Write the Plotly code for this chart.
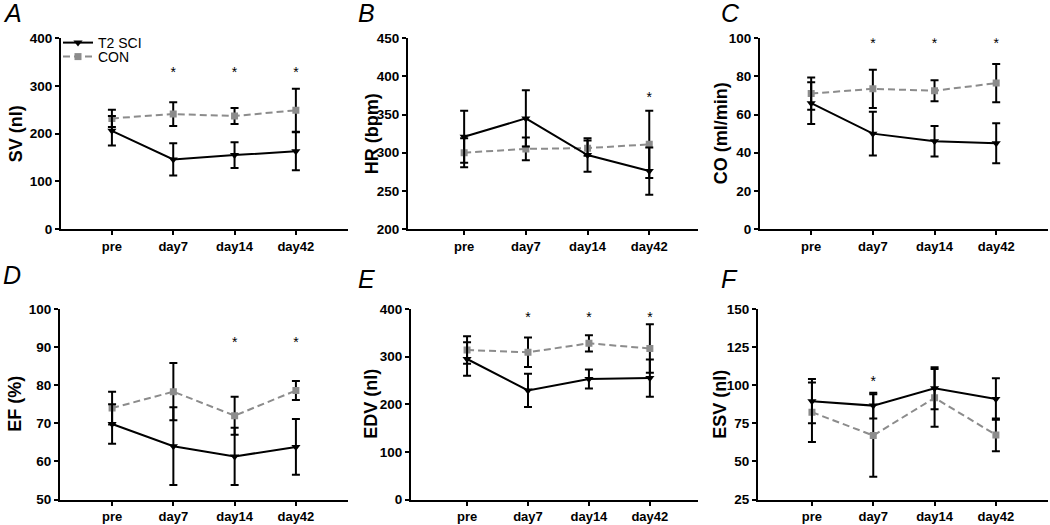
import plotly.graph_objects as go

W, H = 1050, 525
cats = ["pre", "day7", "day14", "day42"]
xi = [0, 1, 2, 3]

# ---- data ----
SV_sci = [206, 146, 155, 163]; SV_sci_err = [31, 34, 27, 40]
SV_con = [232, 241, 237, 249]; SV_con_err = [18, 25, 17, 45]
HR_sci = [321, 345, 297, 276]; HR_sci_err = [34, 37, 22, 31]
HR_con = [300, 305, 306, 311]; HR_con_err = [19, 15, 10, 44]
CO_sci = [66, 50, 46, 45]; CO_sci_err = [11, 11.5, 8, 10.5]
CO_con = [71, 73.5, 72.5, 76.5]; CO_con_err = [8.5, 10, 5.5, 10]
EF_sci = [69.8, 64, 61.3, 63.8]; EF_sci_err = [5.2, 10.2, 7.5, 7.3]
EF_con = [74, 78.3, 72, 78.6]; EF_con_err = [4.3, 7.5, 5, 2.5]
EDV_sci = [295, 229, 253, 255]; EDV_sci_err = [35, 35, 20, 39]
EDV_con = [314, 309, 328, 317]; EDV_con_err = [29, 31, 17, 51]
ESV_sci = [89.5, 86.6, 98, 91]; ESV_sci_err = [14.5, 8.5, 13.8, 13.6]
ESV_con = [82.3, 67, 91.7, 67.4]; ESV_con_err = [19.5, 27, 19, 10.7]

# significance markers: (category index list, y value)
SV_sig = ([1, 2, 3], 327)
HR_sig = ([3], 371)
CO_sig = ([1, 2, 3], 96.5)
EF_sig = ([2, 3], 91)
EDV_sig = ([1, 2, 3], 381)
ESV_sig = ([1], 102)

TOP = [38.3, 229]
BOT = [309, 499.5]
panels = [
    dict(letter="A", title="SV (nl)", sci=SV_sci, scie=SV_sci_err, con=SV_con, cone=SV_con_err,
         sig=SV_sig, yr=[0, 400], dt=100, xpx=[61, 348], ypx=TOP, xr=[-0.83, 3.85],
         lx=12, ly=13, tx=15.5),
    dict(letter="B", title="HR (bpm)", sci=HR_sci, scie=HR_sci_err, con=HR_con, cone=HR_con_err,
         sig=HR_sig, yr=[200, 450], dt=50, xpx=[408, 698], ypx=TOP, xr=[-0.91, 3.79],
         lx=366, ly=13, tx=371.5),
    dict(letter="C", title="CO (ml/min)", sci=CO_sci, scie=CO_sci_err, con=CO_con, cone=CO_con_err,
         sig=CO_sig, yr=[0, 100], dt=20, xpx=[760, 1048], ypx=TOP, xr=[-0.83, 3.84],
         lx=730, ly=13, tx=720.5),
    dict(letter="D", title="EF (%)", sci=EF_sci, scie=EF_sci_err, con=EF_con, cone=EF_con_err,
         sig=EF_sig, yr=[50, 100], dt=10, xpx=[60, 348], ypx=BOT, xr=[-0.85, 3.85],
         lx=12, ly=275, tx=15.5),
    dict(letter="E", title="EDV (nl)", sci=EDV_sci, scie=EDV_sci_err, con=EDV_con, cone=EDV_con_err,
         sig=EDV_sig, yr=[0, 400], dt=100, xpx=[411, 698], ypx=BOT, xr=[-0.92, 3.79],
         lx=366, ly=279, tx=371.5),
    dict(letter="F", title="ESV (nl)", sci=ESV_sci, scie=ESV_sci_err, con=ESV_con, cone=ESV_con_err,
         sig=ESV_sig, yr=[25, 150], dt=25, xpx=[758, 1048], ypx=BOT, xr=[-0.88, 3.85],
         lx=729, ly=279, tx=720.5),
]

FONT = "Liberation Sans, Arial, sans-serif"
GRAY = "#8c8c8c"

fig = go.Figure()
layout = dict(width=W, height=H, margin=dict(l=0, r=0, t=0, b=0, pad=0, autoexpand=False),
              paper_bgcolor="white", plot_bgcolor="white", showlegend=True)
annotations = []

for i, p in enumerate(panels):
    n = i + 1
    xa = "x" if n == 1 else f"x{n}"
    ya = "y" if n == 1 else f"y{n}"
    xdom = [p["xpx"][0] / W, p["xpx"][1] / W]
    ydom = [1 - p["ypx"][1] / H, 1 - p["ypx"][0] / H]
    layout["xaxis" if n == 1 else f"xaxis{n}"] = dict(
        domain=xdom, anchor=ya, range=p["xr"], tickmode="array", tickvals=xi, ticktext=cats,
        showline=True, linecolor="black", linewidth=2, ticks="outside", ticklen=4, tickwidth=2,
        tickcolor="black", showgrid=False, zeroline=False, automargin=False,
        tickfont=dict(family=FONT, size=13, color="black", weight="bold"))
    layout["yaxis" if n == 1 else f"yaxis{n}"] = dict(
        domain=ydom, anchor=xa, range=p["yr"], dtick=p["dt"], tick0=p["yr"][0],
        showline=True, linecolor="black", linewidth=2, ticks="outside", ticklen=4, tickwidth=2,
        tickcolor="black", showgrid=False, zeroline=False, automargin=False,
        tickfont=dict(family=FONT, size=13.5, color="black", weight="bold"))

    fig.add_trace(go.Scatter(
        x=xi, y=p["con"], xaxis=xa, yaxis=ya, name="CON", legend="legend2",
        mode="lines+markers", showlegend=(n == 1),
        line=dict(color=GRAY, width=2, dash="7px,4px"),
        marker=dict(symbol="square", size=7, color=GRAY),
        error_y=dict(type="data", array=p["cone"], color="black", thickness=2, width=4)))
    fig.add_trace(go.Scatter(
        x=xi, y=p["sci"], xaxis=xa, yaxis=ya, name="T2 SCI", legend="legend",
        mode="lines+markers", showlegend=(n == 1),
        line=dict(color="black", width=2),
        marker=dict(symbol="triangle-down", size=8, color="black"),
        error_y=dict(type="data", array=p["scie"], color="black", thickness=2, width=4)))
    sx, sy = p["sig"]
    fig.add_trace(go.Scatter(
        x=sx, y=[sy] * len(sx), xaxis=xa, yaxis=ya, mode="text", text=["*"] * len(sx),
        textposition="middle center", showlegend=False, hoverinfo="skip",
        textfont=dict(family=FONT, size=14, color="black")))

    annotations.append(dict(text=p["letter"], xref="paper", yref="paper",
                            x=p["lx"] / W, y=1 - p["ly"] / H, xanchor="center", yanchor="middle",
                            showarrow=False,
                            font=dict(family=FONT, size=25, color="black", style="italic")))
    ymid = (p["ypx"][0] + p["ypx"][1]) / 2
    annotations.append(dict(text=p["title"], xref="paper", yref="paper", textangle=-90,
                            x=p["tx"] / W, y=1 - ymid / H, xanchor="center", yanchor="middle",
                            showarrow=False,
                            font=dict(family=FONT, size=18, color="black", weight="bold")))

layout["annotations"] = annotations
leg = dict(xanchor="left", yanchor="middle", bgcolor="rgba(0,0,0,0)", itemwidth=30,
           font=dict(family=FONT, size=14, color="black"))
layout["legend"] = dict(leg, x=58 / W, y=1 - 43 / H)
layout["legend2"] = dict(leg, x=58 / W, y=1 - 57 / H)
fig.update_layout(**layout)
fig.write_html("out.html", config={"displayModeBar": False},
               post_script="document.body.style.margin='0';")
